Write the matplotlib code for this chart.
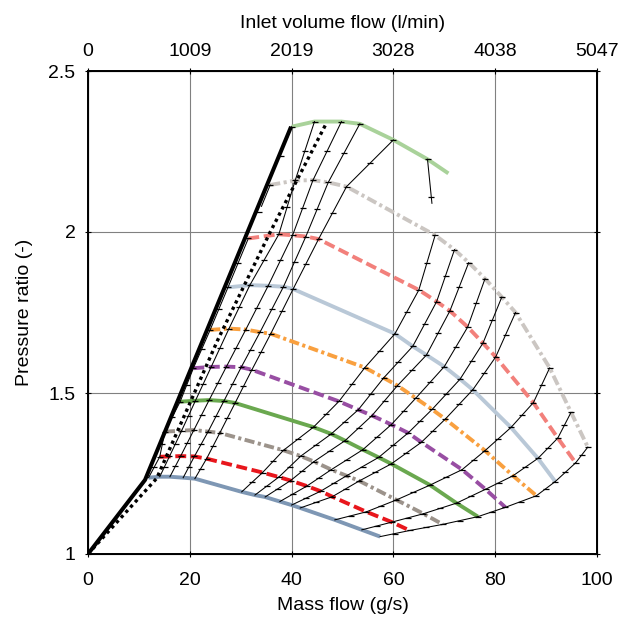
import numpy as np
import matplotlib
matplotlib.use("Agg")
import matplotlib.pyplot as plt

plt.rcParams['font.family'] = ['Liberation Sans', 'DejaVu Sans']

# surge limits
surge_x = [0, 11.2, 39.9]
surge_y = [1.0, 1.23, 2.327]
dotted_x = [0, 13.5, 25.5, 35.8, 46.9]
dotted_y = [1.0, 1.235, 1.665, 2.0, 2.34]

# speed lines, one node per operating point (surge -> choke)
blue_x = [11.9, 14.1, 16.1, 18.7, 21.0, 30.2, 32.8, 34.8, 37.7, 40.0, 41.7, 48.5, 53.8, 57.4]
blue_y = [1.237, 1.240, 1.240, 1.237, 1.234, 1.193, 1.183, 1.177, 1.163, 1.152, 1.143, 1.106, 1.075, 1.054]
red_x = [14.1, 16.0, 18.2, 20.9, 23.3, 34.3, 37.5, 39.8, 43.0, 45.7, 48.0, 54.7, 59.7, 63.2]
red_y = [1.302, 1.303, 1.304, 1.303, 1.296, 1.253, 1.239, 1.228, 1.211, 1.195, 1.178, 1.131, 1.099, 1.073]
taupe_x = [15.1, 18.4, 20.8, 23.6, 25.9, 38.4, 41.8, 44.4, 47.8, 50.8, 53.3, 60.6, 65.9, 69.7]
taupe_y = [1.380, 1.383, 1.385, 1.380, 1.376, 1.322, 1.304, 1.287, 1.262, 1.243, 1.227, 1.168, 1.125, 1.092]
green_x = [18.1, 21.1, 23.8, 26.7, 28.9, 44.3, 47.8, 50.5, 54.0, 57.1, 59.6, 67.2, 72.4, 76.6]
green_y = [1.473, 1.476, 1.478, 1.475, 1.469, 1.394, 1.373, 1.352, 1.324, 1.300, 1.280, 1.214, 1.158, 1.116]
purple_x = [20.7, 24.2, 27.2, 30.1, 32.2, 49.3, 53.1, 55.8, 59.6, 62.9, 65.5, 73.5, 78.1, 82.0]
purple_y = [1.577, 1.581, 1.582, 1.580, 1.572, 1.474, 1.448, 1.430, 1.402, 1.376, 1.347, 1.262, 1.201, 1.145]
orange_x = [24.0, 27.7, 31.0, 33.8, 35.9, 54.4, 58.1, 60.8, 64.4, 67.6, 70.2, 78.0, 83.5, 88.1]
orange_y = [1.696, 1.700, 1.697, 1.689, 1.684, 1.579, 1.547, 1.523, 1.484, 1.449, 1.419, 1.321, 1.243, 1.181]
ltblue_x = [27.5, 31.8, 35.4, 38.4, 40.3, 60.3, 63.8, 66.5, 70.0, 73.1, 75.6, 83.1, 88.4, 91.8]
ltblue_y = [1.828, 1.835, 1.833, 1.830, 1.823, 1.684, 1.645, 1.618, 1.582, 1.543, 1.510, 1.393, 1.297, 1.225]
salmon_x = [31.5, 37.5, 40.2, 42.8, 45.3, 65.0, 68.5, 71.1, 74.6, 77.6, 80.1, 87.5, 92.3, 95.8]
salmon_y = [1.980, 1.993, 1.990, 1.986, 1.978, 1.820, 1.784, 1.755, 1.705, 1.655, 1.612, 1.470, 1.360, 1.283]
ltgray_x = [35.8, 40.7, 44.2, 47.2, 50.8, 68.2, 72.0, 74.8, 78.0, 81.3, 84.0, 90.7, 94.9, 98.2]
ltgray_y = [2.146, 2.160, 2.161, 2.154, 2.141, 1.990, 1.945, 1.905, 1.855, 1.798, 1.750, 1.578, 1.440, 1.332]
ltgreen_x = [40.0, 44.5, 49.8, 53.4, 60.0, 66.7, 70.8]
ltgreen_y = [2.327, 2.343, 2.343, 2.336, 2.286, 2.226, 2.182]

speed_x = [blue_x, red_x, taupe_x, green_x, purple_x, orange_x, ltblue_x, salmon_x, ltgray_x, ltgreen_x]
speed_y = [blue_y, red_y, taupe_y, green_y, purple_y, orange_y, ltblue_y, salmon_y, ltgray_y, ltgreen_y]
n_nodes = [14, 14, 14, 14, 14, 14, 14, 14, 14, 6]
colors = ["#7e97b4", "#e8161c", "#9c938b", "#6aa84f", "#984ea3",
          "#f9a03f", "#b9c8d7", "#f2807b", "#cbc6c2", "#a9d29a"]
dash = (0, (2.8, 1.2))
dashdot = (0, (2.6, 0.9, 0.8, 0.9))
styles = ["-", dash, dashdot] * 3 + ["-"]

# (node index, lower speed line) -> fraction of that segment left undrawn
partial = {(0, 7): 0.6, (0, 8): 0.8, (5, 8): 0.42}

top_ticks = [0, 20, 40, 60, 80, 100]
top_labels = ["0", "1009", "2019", "3028", "4038", "5047"]
fs = 14

fig = plt.figure(figsize=(6.23, 6.23), dpi=100)
ax = fig.add_axes([88 / 623, 1 - 554 / 623, 509 / 623, 483 / 623])

for k in range(len(speed_x)):
    ax.plot(speed_x[k], speed_y[k], color=colors[k], ls=styles[k], lw=2.8,
            dash_capstyle="butt", solid_capstyle="butt", zorder=2)

for j in range(14):
    ks = [k for k in range(len(speed_x)) if j < n_nodes[k]]
    for a, b in zip(ks[:-1], ks[1:]):
        p = np.array([speed_x[a][j], speed_y[a][j]])
        q = np.array([speed_x[b][j], speed_y[b][j]])
        p0 = p + partial.get((j, a), 0.0) * (q - p)
        ax.plot([p0[0], q[0]], [p0[1], q[1]], color="k", lw=0.75, zorder=3)
        m = 0.5 * (p + q)
        ax.plot([m[0], q[0]], [m[1], q[1]], ls="none", marker="_", ms=4,
                mew=0.9, color="k", zorder=3)

ax.plot(surge_x, surge_y, color="k", lw=2.9, solid_capstyle="butt", zorder=4)
ax.plot(dotted_x, dotted_y, color="k", lw=2.4, ls=(0, (1, 1.1)), zorder=4)

ax.set_xlim(0, 100)
ax.set_ylim(1, 2.5)
ax.set_xticks(top_ticks)
ax.set_yticks([1, 1.5, 2, 2.5])
ax.set_yticklabels(["1", "1.5", "2", "2.5"])
ax.grid(True, color="#808080", lw=0.8)
ax.tick_params(direction="inout", length=4, width=0.8, labelsize=fs, pad=11,
               top=False, right=True)
ax.tick_params(axis="y", pad=7)
for s in ax.spines.values():
    s.set_linewidth(1.4)
ax.set_xlabel("Mass flow (g/s)", fontsize=fs, labelpad=6)
ax.set_ylabel("Pressure ratio (-)", fontsize=fs, labelpad=11)

top = ax.twiny()
top.set_xlim(0, 100)
top.set_xticks(top_ticks)
top.set_xticklabels(top_labels)
top.tick_params(direction="inout", length=4, width=0.8, labelsize=fs, pad=6)
top.set_xlabel("Inlet volume flow (l/min)", fontsize=fs, labelpad=11)

fig.savefig("out.png", dpi=100)
